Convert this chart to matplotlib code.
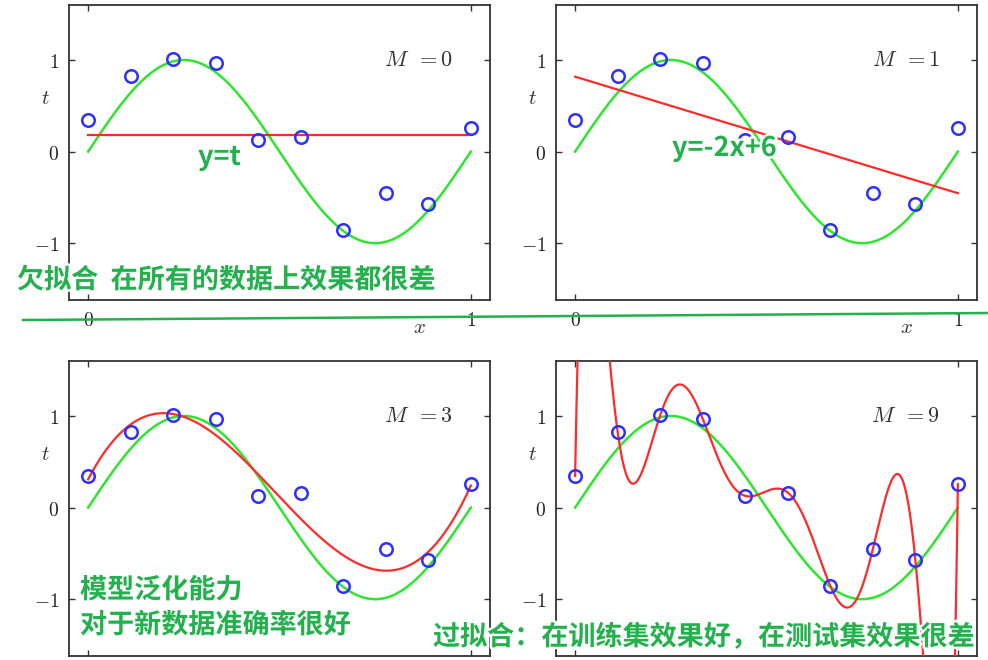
import numpy as np
import matplotlib
matplotlib.use('Agg')
import matplotlib.pyplot as plt
import matplotlib.patheffects as pe
from matplotlib.lines import Line2D

plt.rcParams['mathtext.fontset'] = 'cm'
plt.rcParams['font.family'] = ['Noto Sans CJK SC', 'DejaVu Sans']

# training points
x_data = [0.0, 1/9, 2/9, 3/9, 4/9, 5/9, 6/9, 7/9, 8/9, 1.0]
t_data = [0.345, 0.825, 1.007, 0.97, 0.128, 0.164, -0.854, -0.454, -0.57, 0.255]
orders = [0, 1, 3, 9]
order_labels = ['$M\\ \\,=0$', '$M\\ \\,=1$', '$M\\ \\,=3$', '$M\\ \\,=9$']

# (left, bottom) of each panel in pixels of the 988x660 picture
panel_px = [(69, 300), (556, 300), (69, 656), (556, 656)]

W, H = 988, 660
fig = plt.figure(figsize=(W / 100, H / 100), dpi=100)

xs = np.linspace(0, 1, 600)
green = '#2ee62e'
red = '#ff2a2a'
blue = '#2f2fff'
edge = '#333333'

for i, M in enumerate(orders):
    px, py = panel_px[i]
    ax = fig.add_axes([px / W, 1 - py / H, 421 / W, 295 / H])
    ax.plot(xs, np.sin(2 * np.pi * xs), color=green, lw=1.8, zorder=2)
    p = np.polynomial.Polynomial.fit(x_data, t_data, M)
    ax.plot(xs, p(xs), color=red, lw=1.6, zorder=3)
    ax.plot(x_data, t_data, 'o', mfc='none', mec=blue, mew=1.8, ms=9, zorder=4)
    ax.set_xlim(-0.05, 1.05)
    ax.set_ylim(-1.62, 1.6)
    ax.set_xticks([0, 1])
    ax.set_yticks([-1, 0, 1])
    ax.set_yticklabels(['$-1$', '$0$', '$1$'])
    if i < 2:
        ax.set_xticklabels(['$0$', '$1$'])
        ax.text(0.867, -1.91, '$x$', ha='center', va='center', fontsize=15,
                color='#333333', clip_on=False)
    else:
        # the picture is cropped below these panels
        ax.set_xticklabels([])
    ax.tick_params(direction='in', top=True, right=True, length=4, width=1,
                   color=edge, labelsize=14, labelcolor='#222222', pad=7)
    for s in ax.spines.values():
        s.set_color(edge)
        s.set_linewidth(1.3)
    ax.text(0.953, 1.0, order_labels[i], ha='right', va='center', fontsize=16,
            color='#333333')
    ax.text(-0.112, 0.58, '$t$', ha='center', va='center', fontsize=15,
            color='#333333', clip_on=False)

# green notes drawn over the figure
note_color = '#22b14c'
stroke = [pe.withStroke(linewidth=3.5, foreground='white')]
notes = [
    (198, 157, 'y=t'),
    (672, 148, 'y=-2x+6'),
    (17, 280, '欠拟合  在所有的数据上效果都很差'),
    (80, 590, '模型泛化能力'),
    (80, 625, '对于新数据准确率很好'),
    (433, 637, '过拟合：在训练集效果好，在测试集效果很差'),
]
for nx, ny, s in notes:
    fig.text(nx / W, 1 - ny / H, s, ha='left', va='center', fontsize=19.5,
             fontweight='heavy', color=note_color, path_effects=stroke, zorder=10)

fig.add_artist(Line2D([23 / W, 1.0], [1 - 320 / H, 1 - 313 / H],
                      color=note_color, lw=1.8, zorder=11))

fig.savefig('out.png', dpi=100)
